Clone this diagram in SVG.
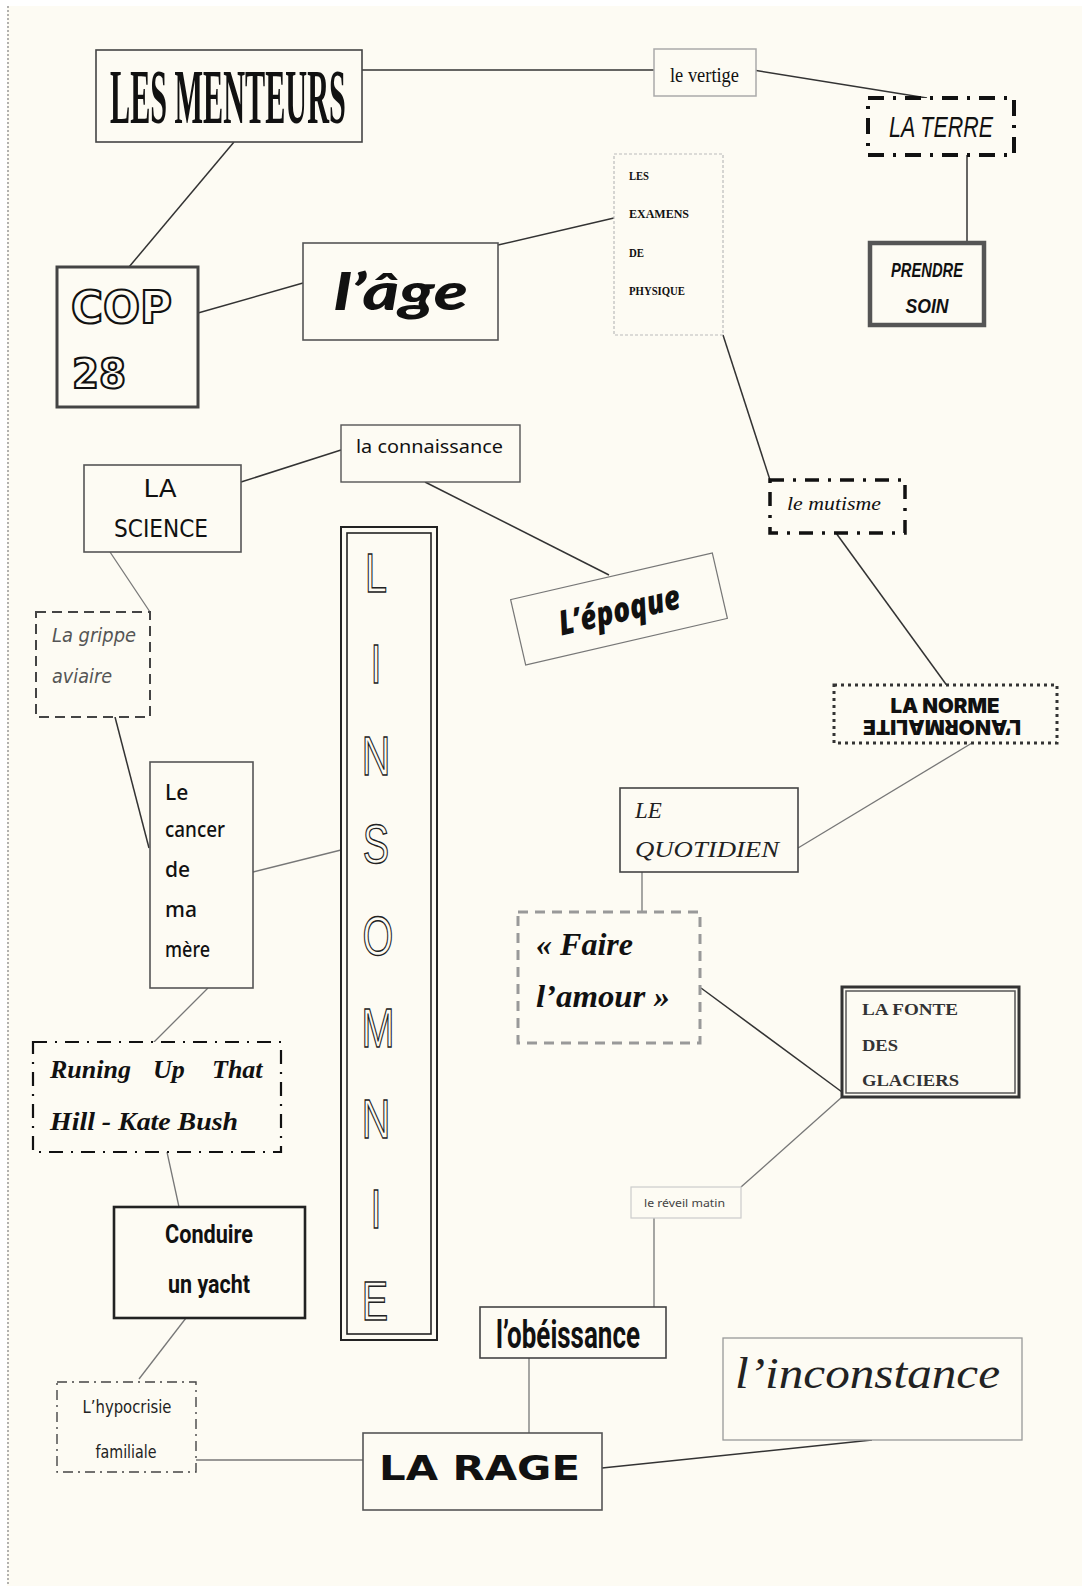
<svg xmlns="http://www.w3.org/2000/svg" width="1082" height="1586" viewBox="0 0 1082 1586">
<style>
.bg{fill:#fdfbf3}
.conn line{stroke:#333;stroke-width:1.5}
.conn line.g{stroke:#777;stroke-width:1.3}
.box{fill:#fdfbf3}
.t{fill:#111}
.serif{font-family:"Liberation Serif","DejaVu Serif",serif}
.sans{font-family:"Liberation Sans","DejaVu Sans",sans-serif}
.dj{font-family:"DejaVu Sans","Liberation Sans",sans-serif}
.noto{font-family:"Noto Sans","DejaVu Sans",sans-serif}
.lato{font-family:Lato,"Open Sans",sans-serif}
.inter{font-family:Inter,"Noto Sans",sans-serif}
.os{font-family:"Open Sans","Noto Sans",sans-serif}
.rob{font-family:Roboto,"Liberation Sans",sans-serif}
</style>
<rect class="bg" x="0" y="0" width="1082" height="1586"/>
<rect x="0" y="0" width="1082" height="6" fill="#ffffff"/>
<rect x="0" y="0" width="7" height="1586" fill="#ffffff"/>
<line x1="8" y1="6" x2="8" y2="1586" stroke="#999" stroke-width="1.5" stroke-dasharray="2 2"/>

<g id="connectors" class="conn">
  <line x1="362" y1="70" x2="654" y2="70"/>
  <line x1="753" y1="70" x2="927" y2="98"/>
  <line x1="967" y1="155" x2="967" y2="243"/>
  <line x1="234" y1="142" x2="129" y2="267"/>
  <line x1="198" y1="313" x2="303" y2="283"/>
  <line x1="498" y1="245" x2="614" y2="218"/>
  <line x1="723" y1="335" x2="770" y2="480"/>
  <line x1="836" y1="533" x2="948" y2="687"/>
  <line class="g" x1="972" y1="743" x2="798" y2="848"/>
  <line x1="341" y1="450" x2="241" y2="482"/>
  <line x1="425" y1="482" x2="609" y2="575"/>
  <line class="g" x1="110" y1="552" x2="150" y2="612"/>
  <line x1="115" y1="717" x2="149" y2="848"/>
  <line class="g" x1="253" y1="872" x2="341" y2="850"/>
  <line class="g" x1="208" y1="988" x2="152" y2="1044"/>
  <line class="g" x1="167" y1="1152" x2="179" y2="1207"/>
  <line class="g" x1="186" y1="1318" x2="139" y2="1379"/>
  <line class="g" x1="196" y1="1460" x2="363" y2="1460"/>
  <line class="g" x1="529" y1="1358" x2="529" y2="1433"/>
  <line class="g" x1="654" y1="1218" x2="654" y2="1307"/>
  <line class="g" x1="842" y1="1097" x2="741" y2="1187"/>
  <line x1="701" y1="988" x2="842" y2="1092"/>
  <line class="g" x1="642" y1="872" x2="642" y2="912"/>
  <line x1="602" y1="1468" x2="872" y2="1440"/>
</g>

<g id="les-menteurs">
  <rect class="box" x="96" y="50" width="266" height="92" stroke="#444" stroke-width="1.6"/>
  <text class="t serif" transform="translate(110,123) scale(0.755,1.93)" x="0" y="0" font-size="40" font-weight="bold">LES MENTEURS</text>
</g>
<g id="le-vertige">
  <rect class="box" x="654" y="49" width="102" height="47" stroke="#aaa" stroke-width="1.5"/>
  <text class="t serif" x="670" y="82" font-size="22" textLength="69" lengthAdjust="spacingAndGlyphs">le vertige</text>
</g>
<g id="la-terre">
  <rect class="box" x="868" y="98" width="146" height="57" stroke="#111" stroke-width="4" stroke-dasharray="16 9 3 9"/>
  <text class="t sans" x="889" y="137" font-size="30" font-style="italic" textLength="104" lengthAdjust="spacingAndGlyphs">LA TERRE</text>
</g>
<g id="prendre-soin">
  <rect class="box" x="870" y="243" width="114" height="82" stroke="#555" stroke-width="4.5"/>
  <text class="t sans" x="927" y="277" font-size="21" font-weight="bold" font-style="italic" text-anchor="middle" textLength="72" lengthAdjust="spacingAndGlyphs">PRENDRE</text>
  <text class="t sans" x="927" y="313" font-size="21" font-weight="bold" font-style="italic" text-anchor="middle" textLength="43" lengthAdjust="spacingAndGlyphs">SOIN</text>
</g>
<g id="examens">
  <rect class="box" x="614" y="154" width="109" height="181" stroke="#bbb" stroke-width="1.2" stroke-dasharray="3 2"/>
  <g class="t serif" font-size="12" font-weight="bold" fill="#222">
    <text x="629" y="180" textLength="20" lengthAdjust="spacingAndGlyphs">LES</text>
    <text x="629" y="218" textLength="60" lengthAdjust="spacingAndGlyphs">EXAMENS</text>
    <text x="629" y="257" textLength="15" lengthAdjust="spacingAndGlyphs">DE</text>
    <text x="629" y="295" textLength="56" lengthAdjust="spacingAndGlyphs">PHYSIQUE</text>
  </g>
</g>
<g id="cop28">
  <rect class="box" x="57" y="267" width="141" height="140" stroke="#444" stroke-width="3"/>
  <text class="dj" x="71" y="323" font-size="45" font-weight="bold" fill="#fdfbf3" stroke="#111" stroke-width="2.2" textLength="101" lengthAdjust="spacingAndGlyphs">COP</text>
  <text class="dj" x="72" y="388" font-size="41" font-weight="bold" fill="#fdfbf3" stroke="#111" stroke-width="2.2" textLength="54" lengthAdjust="spacingAndGlyphs">28</text>
</g>
<g id="l-age">
  <rect class="box" x="303" y="243" width="195" height="97" stroke="#555" stroke-width="1.6"/>
  <text class="t lato" x="334" y="310" font-size="52" font-weight="900" font-style="italic" textLength="134" lengthAdjust="spacingAndGlyphs">l’âge</text>
</g>
<g id="la-connaissance">
  <rect class="box" x="341" y="425" width="179" height="57" stroke="#555" stroke-width="1.4"/>
  <text class="t noto" x="356" y="453" font-size="18" textLength="147" lengthAdjust="spacingAndGlyphs">la connaissance</text>
</g>
<g id="la-science">
  <rect class="box" x="84" y="465" width="157" height="87" stroke="#555" stroke-width="1.6"/>
  <text class="t dj" x="160" y="497" font-size="25" text-anchor="middle" textLength="33" lengthAdjust="spacingAndGlyphs">LA</text>
  <text class="t dj" x="161" y="537" font-size="25" text-anchor="middle" textLength="94" lengthAdjust="spacingAndGlyphs">SCIENCE</text>
</g>
<g id="la-grippe">
  <rect class="box" x="36" y="612" width="114" height="105" stroke="#444" stroke-width="2" stroke-dasharray="10 6"/>
  <text class="dj" x="52" y="642" font-size="19" font-style="italic" fill="#555" textLength="84" lengthAdjust="spacingAndGlyphs">La grippe</text>
  <text class="dj" x="52" y="683" font-size="19" font-style="italic" fill="#555" textLength="60" lengthAdjust="spacingAndGlyphs">aviaire</text>
</g>
<g id="le-cancer">
  <rect class="box" x="150" y="762" width="103" height="226" stroke="#555" stroke-width="1.6"/>
  <g class="t noto" font-size="21" font-weight="500">
    <text x="165" y="800">Le</text>
    <text x="165" y="837" textLength="60" lengthAdjust="spacingAndGlyphs">cancer</text>
    <text x="165" y="877">de</text>
    <text x="165" y="917">ma</text>
    <text x="165" y="957" textLength="45" lengthAdjust="spacingAndGlyphs">mère</text>
  </g>
</g>
<g id="linsomnie">
  <rect class="box" x="341" y="527" width="96" height="813" stroke="#222" stroke-width="2"/>
  <rect x="347" y="533" width="84" height="801" fill="none" stroke="#222" stroke-width="1.6"/>
  <g class="sans" font-size="55" fill="none" stroke="#222" stroke-width="1.4" text-anchor="middle">
    <text transform="translate(376,592) scale(0.72,1)">L</text>
    <text transform="translate(376,683) scale(0.72,1)">I</text>
    <text transform="translate(376,775) scale(0.72,1)">N</text>
    <text transform="translate(376,863) scale(0.72,1)">S</text>
    <text transform="translate(378,955) scale(0.72,1)">O</text>
    <text transform="translate(378,1047) scale(0.72,1)">M</text>
    <text transform="translate(376,1138) scale(0.72,1)">N</text>
    <text transform="translate(376,1228) scale(0.72,1)">I</text>
    <text transform="translate(375,1320) scale(0.72,1)">E</text>
  </g>
</g>
<g id="l-epoque" transform="rotate(-13 619 609)">
  <rect class="box" x="515.5" y="575.5" width="207" height="67" stroke="#777" stroke-width="1.2"/>
  <text class="t os" x="619" y="622" font-size="34" font-weight="800" font-style="italic" text-anchor="middle" textLength="124" lengthAdjust="spacingAndGlyphs">L’époque</text>
</g>
<g id="le-mutisme">
  <rect class="box" x="770" y="480" width="135" height="53" stroke="#111" stroke-width="3.5" stroke-dasharray="14 9 3 9"/>
  <text class="t serif" x="787" y="510" font-size="18" font-style="italic" textLength="94" lengthAdjust="spacingAndGlyphs">le mutisme</text>
</g>
<g id="la-norme">
  <rect class="box" x="834" y="685" width="223" height="58" stroke="#333" stroke-width="3" stroke-dasharray="3 4"/>
  <text class="t inter" x="945" y="713" font-size="20" font-weight="900" text-anchor="middle" textLength="109" lengthAdjust="spacingAndGlyphs">LA NORME</text>
  <text class="t inter" x="942" y="735" font-size="20" font-weight="900" text-anchor="middle" textLength="158" lengthAdjust="spacingAndGlyphs" transform="rotate(180 942 727.5)">L’ANORMALITE</text>
</g>
<g id="le-quotidien">
  <rect class="box" x="620" y="788" width="178" height="84" stroke="#444" stroke-width="1.6"/>
  <text class="serif" x="635" y="818" font-size="23" font-style="italic" fill="#222">LE</text>
  <text class="serif" x="635" y="857" font-size="23" font-style="italic" fill="#222" textLength="144" lengthAdjust="spacingAndGlyphs">QUOTIDIEN</text>
</g>
<g id="faire-l-amour">
  <rect class="box" x="518" y="912" width="182" height="131" stroke="#999" stroke-width="3" stroke-dasharray="10 7"/>
  <text class="t serif" x="536" y="955" font-size="32" font-weight="bold" font-style="italic" textLength="97" lengthAdjust="spacingAndGlyphs">« Faire</text>
  <text class="t serif" x="536" y="1007" font-size="32" font-weight="bold" font-style="italic" textLength="134" lengthAdjust="spacingAndGlyphs">l’amour »</text>
</g>
<g id="la-fonte">
  <rect class="box" x="842" y="987" width="177" height="110" stroke="#333" stroke-width="3"/>
  <rect x="846" y="991" width="169" height="102" fill="none" stroke="#555" stroke-width="1.5"/>
  <g class="serif" font-size="17" font-weight="bold" fill="#333">
    <text x="862" y="1015" textLength="96" lengthAdjust="spacingAndGlyphs">LA FONTE</text>
    <text x="862" y="1051" textLength="36" lengthAdjust="spacingAndGlyphs">DES</text>
    <text x="862" y="1086" textLength="97" lengthAdjust="spacingAndGlyphs">GLACIERS</text>
  </g>
</g>
<g id="le-reveil-matin">
  <rect class="box" x="631" y="1187" width="110" height="31" stroke="#ccc" stroke-width="1.2"/>
  <text class="noto" x="644" y="1207" font-size="10" fill="#444" textLength="81" lengthAdjust="spacingAndGlyphs">le réveil matin</text>
</g>
<g id="runing">
  <rect class="box" x="33" y="1042" width="248" height="110" stroke="#111" stroke-width="2.2" stroke-dasharray="14 8 2 8"/>
  <text class="t serif" y="1078" font-size="26" font-weight="bold" font-style="italic"><tspan x="50">Runing</tspan> <tspan x="153">Up</tspan> <tspan x="212">That</tspan></text>
  <text class="t serif" x="50" y="1130" font-size="26" font-weight="bold" font-style="italic" textLength="188" lengthAdjust="spacingAndGlyphs">Hill - Kate Bush</text>
</g>
<g id="conduire">
  <rect class="box" x="114" y="1207" width="191" height="111" stroke="#222" stroke-width="2.6"/>
  <text class="t rob" x="209" y="1243" font-size="26" font-weight="bold" text-anchor="middle" textLength="88" lengthAdjust="spacingAndGlyphs">Conduire</text>
  <text class="t rob" x="209" y="1293" font-size="26" font-weight="bold" text-anchor="middle" textLength="82" lengthAdjust="spacingAndGlyphs">un yacht</text>
</g>
<g id="hypocrisie">
  <rect class="box" x="57" y="1382" width="139" height="90" stroke="#444" stroke-width="1.4" stroke-dasharray="10 5 2 5"/>
  <text class="dj" x="127" y="1413" font-size="18" fill="#222" text-anchor="middle" textLength="89" lengthAdjust="spacingAndGlyphs">L’hypocrisie</text>
  <text class="dj" x="126" y="1458" font-size="18" fill="#222" text-anchor="middle" textLength="61" lengthAdjust="spacingAndGlyphs">familiale</text>
</g>
<g id="l-obeissance">
  <rect class="box" x="480" y="1307" width="186" height="51" stroke="#444" stroke-width="1.6"/>
  <text class="t rob" x="496" y="1348" font-size="38" font-weight="bold" textLength="144" lengthAdjust="spacingAndGlyphs">l’obéissance</text>
</g>
<g id="la-rage">
  <rect class="box" x="363" y="1433" width="239" height="77" stroke="#555" stroke-width="1.6"/>
  <text class="t dj" x="379" y="1480" font-size="34" font-weight="bold" textLength="201" lengthAdjust="spacingAndGlyphs">LA RAGE</text>
</g>
<g id="l-inconstance">
  <rect class="box" x="723" y="1338" width="299" height="102" stroke="#999" stroke-width="1.3"/>
  <text class="serif" x="735" y="1388" font-size="44" font-style="italic" fill="#222" textLength="265" lengthAdjust="spacingAndGlyphs">l’inconstance</text>
</g>
</svg>
